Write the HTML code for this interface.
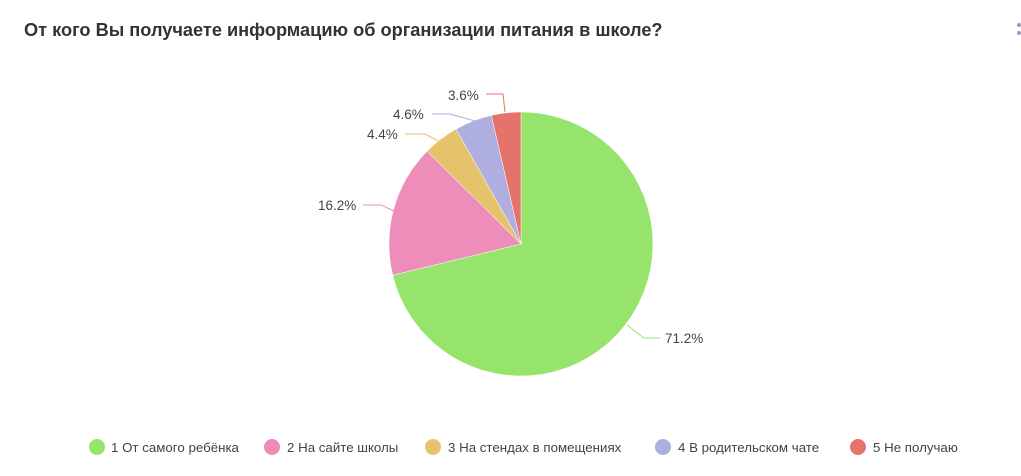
<!DOCTYPE html>
<html><head><meta charset="utf-8"><style>
body{margin:0;background:#fff;width:1021px;height:471px;overflow:hidden;font-family:"Liberation Sans",sans-serif}
</style></head><body>
<svg width="1021" height="471" xmlns="http://www.w3.org/2000/svg" font-family="Liberation Sans, sans-serif">
<text x="24" y="36" font-size="18.2" font-weight="bold" fill="#333">От кого Вы получаете информацию об организации питания в школе?</text>
<circle cx="1019" cy="25" r="2" fill="#9a9ac0"/><circle cx="1019" cy="33" r="2" fill="#9a9ac0"/>
<g stroke="#fff" stroke-width="0.5">
<path d="M521,244 L521,112 A132,132 0 1 1 392.7,275.2 Z" fill="#96e46c"/>
<path d="M521,244 L392.7,275.2 A132,132 0 0 1 427.1,151.2 Z" fill="#ee8cba"/>
<path d="M521,244 L427.1,151.2 A132,132 0 0 1 456.0,129.1 Z" fill="#e4c36c"/>
<path d="M521,244 L456.0,129.1 A132,132 0 0 1 491.4,115.4 Z" fill="#aeaee0"/>
<path d="M521,244 L491.4,115.4 A132,132 0 0 1 521,112 Z" fill="#e5736b"/>
</g>
<g fill="none" stroke-width="1">
<polyline points="627,325 644,338 660,338" stroke="#96e46c"/>
<polyline points="363,205 381,205 396,212" stroke="#ee8cba"/>
<polyline points="405,134 425,134 438,141" stroke="#e4c36c"/>
<polyline points="432,114 450,114 475,121" stroke="#aeaee0"/>
<polyline points="486,94 503,94 505,112" stroke="#e5736b"/>
</g>
<g font-size="13.5" fill="#444">
<text x="665" y="343">71.2%</text>
<text x="318" y="210">16.2%</text>
<text x="367" y="139">4.4%</text>
<text x="393" y="119">4.6%</text>
<text x="448" y="100">3.6%</text>
</g>
<g font-size="13.3" fill="#444">
<circle cx="97" cy="447" r="8" fill="#96e46c"/><text x="111" y="452">1 От самого ребёнка</text>
<circle cx="272" cy="447" r="8" fill="#ee8cba"/><text x="287" y="452">2 На сайте школы</text>
<circle cx="433" cy="447" r="8" fill="#e4c36c"/><text x="448" y="452">3 На стендах в помещениях</text>
<circle cx="663" cy="447" r="8" fill="#aeaee0"/><text x="678" y="452">4 В родительском чате</text>
<circle cx="858" cy="447" r="8" fill="#e5736b"/><text x="873" y="452">5 Не получаю</text>
</g>
</svg>
</body></html>
